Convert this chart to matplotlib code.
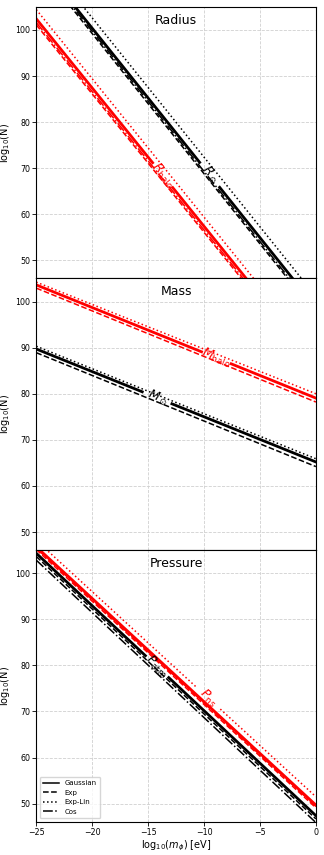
import numpy as np
import matplotlib
matplotlib.use('Agg')
import matplotlib.pyplot as plt

# log10(m_phi) range; each line is given by its log10(N) at both ends
x_ends = [-25, 0]

# Radius panel
rad_sun = {'Gaussian': [115.5, 39.8], 'Exp': [114.4, 38.4], 'Exp-Lin': [117.7, 42.2], 'Cos': [114.9, 38.9]}
rad_halo = {'Gaussian': [102.4, 27.4], 'Exp': [101.1, 26.1], 'Exp-Lin': [104.4, 29.4], 'Cos': [101.6, 26.6]}

# Mass panel
mass_sun = {'Gaussian': [89.7, 65.2], 'Exp': [88.9, 64.2], 'Exp-Lin': [90.3, 65.9]}
mass_halo = {'Gaussian': [103.6, 79.05], 'Exp': [102.9, 78.2], 'Exp-Lin': [104.2, 80.0]}

# Pressure panel
pres_atm = {'Gaussian': [104.3, 47.4], 'Exp': [103.6, 46.7], 'Cos': [102.8, 45.9]}
pres_ns = {'Gaussian': [105.7, 49.7], 'Exp': [105.1, 49.1], 'Exp-Lin': [107.1, 51.5], 'Cos': [105.4, 49.4]}

styles = {'Gaussian': '-', 'Exp': '--', 'Exp-Lin': ':', 'Cos': '-.'}
widths = {'Gaussian': 2.0, 'Exp': 1.1, 'Exp-Lin': 1.1, 'Cos': 1.1}


def draw(ax, lines, color, lab=None, lab_line='Gaussian', lab_x=None):
    for name, y in lines.items():
        if name == lab_line and lab is not None:
            # leave a gap in the labelled line, like an inline contour label
            p0 = ax.transData.transform((x_ends[0], y[0]))
            p1 = ax.transData.transform((x_ends[1], y[1]))
            px_per_x = np.hypot(*(p1 - p0)) / (x_ends[1] - x_ends[0])
            half = 16.0 / px_per_x
            xl = [x_ends[0], lab_x - half]
            xr = [lab_x + half, x_ends[1]]
            ax.plot(xl, np.interp(xl, x_ends, y), styles[name], color=color, lw=widths[name])
            ax.plot(xr, np.interp(xr, x_ends, y), styles[name], color=color, lw=widths[name])
            slope = (y[1] - y[0]) / (x_ends[1] - x_ends[0])
            ax.text(lab_x, np.interp(lab_x, x_ends, y), lab, color=color, fontsize=9,
                    rotation=np.degrees(np.arctan(slope)), transform_rotates_text=True,
                    rotation_mode='anchor', ha='center', va='center', zorder=5)
        else:
            ax.plot(x_ends, y, styles[name], color=color, lw=widths[name])


fig = plt.figure(figsize=(3.24, 8.55), dpi=100)
axs = fig.subplots(3, 1, sharex=True)
fig.subplots_adjust(left=0.112, right=0.975, top=0.992, bottom=0.039, hspace=0)

titles = ['Radius', 'Mass', 'Pressure']
for ax, t in zip(axs, titles):
    ax.set_xlim(-25, 0)
    ax.set_ylim(46.1, 105)
    ax.set_yticks([50, 60, 70, 80, 90, 100])
    ax.set_xticks([-25, -20, -15, -10, -5, 0])
    ax.grid(True, ls='--', color='#d0d0d0', lw=0.6)
    ax.tick_params(labelsize=5.7, length=3, width=0.6, pad=1.5)
    ax.set_ylabel('log$_{10}$(N)', fontsize=7, labelpad=2)
    ax.text(0.5, 0.975, t, transform=ax.transAxes, ha='center', va='top', fontsize=9)
    for s in ax.spines.values():
        s.set_linewidth(0.8)

draw(axs[0], rad_sun, 'black', r'$R_\odot$', lab_x=-9.5)
draw(axs[0], rad_halo, 'red', r'$R_{\rm halo}$', lab_x=-13.7)

draw(axs[1], mass_sun, 'black', r'$M_\odot$', lab_x=-14.2)
draw(axs[1], mass_halo, 'red', r'$M_{\rm halo}$', lab_x=-8.9)

draw(axs[2], pres_atm, 'black', r'$P_{\rm atm}$', lab_x=-14.2)
draw(axs[2], pres_ns, 'red', r'$P_{\rm ns}$', lab_line='Exp-Lin', lab_x=-9.6)

for name in ['Gaussian', 'Exp', 'Exp-Lin', 'Cos']:
    axs[2].plot([], [], styles[name], color='black', lw=1.1, label=name)
axs[2].legend(loc='lower left', fontsize=5, handlelength=2.3, borderpad=0.5, labelspacing=0.5)
axs[2].set_xlabel('log$_{10}$($m_\\phi$) [eV]', fontsize=7, labelpad=1)

fig.savefig('out.png', dpi=100)
